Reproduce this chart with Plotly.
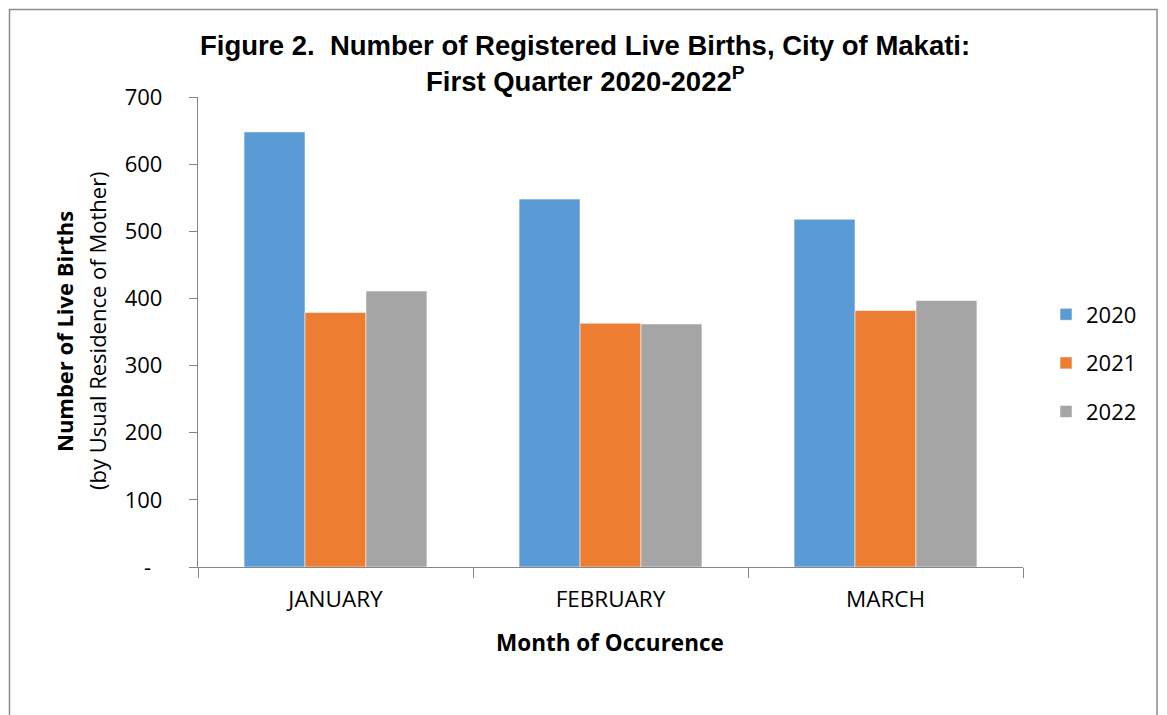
import plotly.graph_objects as go

months = ["JANUARY", "FEBRUARY", "MARCH"]
years = ["2020", "2021", "2022"]
births_2020 = [648, 548, 518]
births_2021 = [379, 363, 382]
births_2022 = [411, 362, 397]
series = [births_2020, births_2021, births_2022]
colors = ["#5B9BD5", "#ED7D31", "#A5A5A5"]
y_tickvals = [0, 100, 200, 300, 400, 500, 600, 700]
y_ticktext = ["-\u00a0\u00a0", "100", "200", "300", "400", "500", "600", "700"]

OFF = 8  # page body margin
W, H = 1167 - OFF, 715 - OFF
L, R, T, B = 198, 1023, 97, 567  # plot area in page pixels


def px_x(p):
    return (p - L) / (R - L)


def px_y(p):
    return (B - p) / (B - T)


fig = go.Figure()
for yr, vals, c in zip(years, series, colors):
    fig.add_trace(go.Bar(
        x=months, y=vals, name=yr, legendgroup=yr,
        marker=dict(color=c, line=dict(color="rgba(255,255,255,0.55)", width=1)),
    ))

body_font = "Open Sans, Lato, sans-serif"
axis_col = "#868686"

fig.update_layout(
    width=W, height=H,
    margin=dict(l=L - OFF, r=W - (R - OFF), t=T - OFF, b=H - (B - OFF), pad=0),
    paper_bgcolor="white", plot_bgcolor="white",
    barmode="group", bargap=0.335, bargroupgap=0,
    font=dict(family=body_font, size=22, color="#000000"),
    showlegend=True,
    legend=dict(x=px_x(1046), xanchor="left", y=px_y(363), yanchor="middle",
                font=dict(size=22, family=body_font), tracegroupgap=17,
                bgcolor="rgba(0,0,0,0)"),
    xaxis=dict(
        showline=True, linecolor=axis_col, linewidth=1.3,
        ticks="outside", tickson="boundaries", ticklen=10, tickcolor=axis_col, tickwidth=1.3,
        showgrid=False, zeroline=False, ticklabelstandoff=12,
        tickfont=dict(size=22.5, family=body_font),
    ),
    yaxis=dict(
        range=[0, 700], tickvals=y_tickvals, ticktext=y_ticktext,
        showline=True, linecolor=axis_col, linewidth=1.3,
        ticks="outside", ticklen=8, tickcolor=axis_col, tickwidth=1.3,
        showgrid=False, zeroline=False, ticklabelstandoff=22,
        tickfont=dict(size=22, family=body_font),
    ),
)

title_font = dict(family="Liberation Sans, Arial, sans-serif", size=27.5, color="#000000")
fig.add_annotation(text="<b>Figure 2.  Number of Registered Live Births, City of Makati:</b>",
                   xref="paper", yref="paper", x=px_x(585), y=px_y(46),
                   xanchor="center", yanchor="middle", showarrow=False, font=title_font)
fig.add_annotation(text="<b>First Quarter 2020-2022<sup>P</sup></b>",
                   xref="paper", yref="paper", x=px_x(585), y=px_y(79),
                   xanchor="center", yanchor="middle", showarrow=False, font=title_font)

fig.add_annotation(text="<b>Number of Live Births</b>", textangle=-90,
                   xref="paper", yref="paper", x=px_x(64), y=px_y(332),
                   xanchor="center", yanchor="middle", showarrow=False,
                   font=dict(family=body_font, size=22))
fig.add_annotation(text="(by Usual Residence of Mother)", textangle=-90,
                   xref="paper", yref="paper", x=px_x(97), y=px_y(331),
                   xanchor="center", yanchor="middle", showarrow=False,
                   font=dict(family=body_font, size=22))
fig.add_annotation(text="<b>Month of Occurence</b>",
                   xref="paper", yref="paper", x=px_x(610), y=px_y(642),
                   xanchor="center", yanchor="middle", showarrow=False,
                   font=dict(family=body_font, size=22.5))

fig.add_shape(type="rect", xref="paper", yref="paper",
              x0=px_x(9.5), x1=px_x(1157), y0=px_y(740), y1=px_y(9.5),
              line=dict(color="#8C8C8C", width=1.5), fillcolor="rgba(0,0,0,0)", layer="below")

fig.write_html("out.html")
